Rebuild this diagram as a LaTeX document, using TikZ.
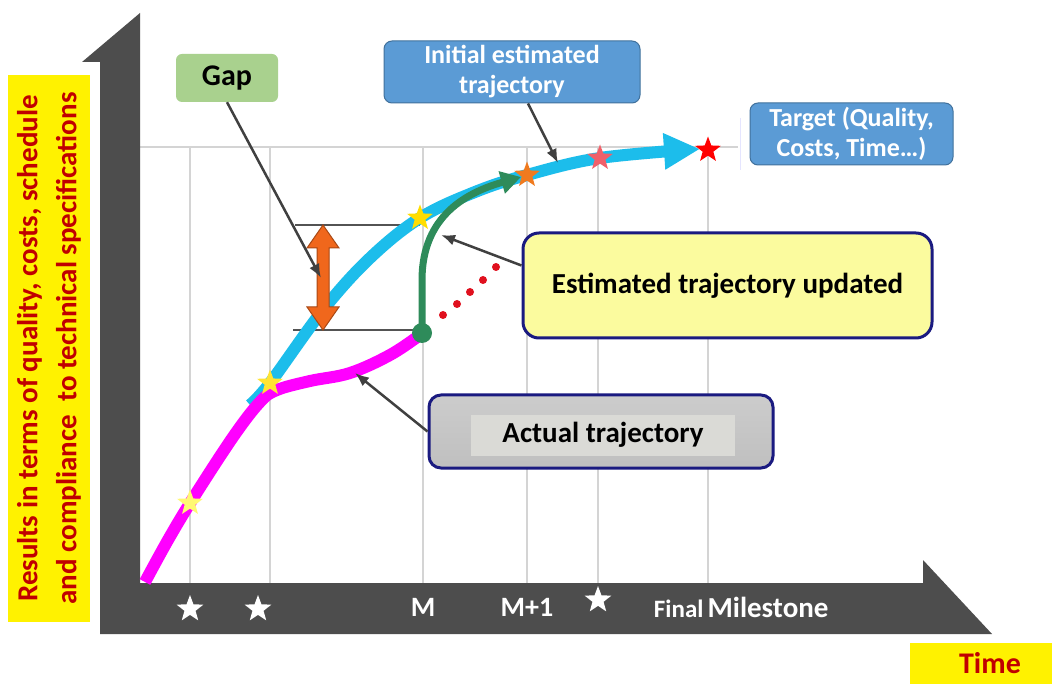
\documentclass[tikz,border=0pt]{standalone}
\usepackage{fontspec}
\setmainfont{Carlito}
\usetikzlibrary{arrows.meta,shapes.geometric}
\definecolor{axisgray}{HTML}{4D4D4D}
\definecolor{gridgray}{HTML}{D4D4D4}
\definecolor{darkred}{HTML}{C00000}
\definecolor{cyanc}{HTML}{1CBDEB}
\definecolor{magc}{HTML}{FF00FF}
\definecolor{greenc}{HTML}{2E8B5A}
\definecolor{orangec}{HTML}{F0671C}
\definecolor{boxblue}{HTML}{5B9BD5}
\definecolor{boxblueb}{HTML}{41719C}
\definecolor{boxgreen}{HTML}{A9D18E}
\definecolor{boxyellow}{HTML}{FBFB9E}
\definecolor{navy}{HTML}{1A1A80}
\definecolor{pointer}{HTML}{404040}
\definecolor{staryellow}{HTML}{FFDD00}
\definecolor{starorange}{HTML}{F07A1E}
\definecolor{starpink}{HTML}{F0606A}
\definecolor{dotred}{HTML}{E0101E}
\definecolor{innergray}{HTML}{DADAD6}
\tikzset{
  lbl/.style={font=\bfseries\fontsize{29}{32}\selectfont},
  bluebox/.style={font=\bfseries\fontsize{26}{30}\selectfont, rounded corners=8pt, fill=boxblue, draw=boxblueb, line width=1pt, text=white, align=center, inner sep=0pt},
  ptr/.style={draw=pointer, line width=2.5pt, -{Latex[length=14pt,width=11pt]}},
  mstar/.style={star, star points=5, star point ratio=2.4, minimum size=27pt, inner sep=0pt},
  wstar/.style={mstar, fill=white, minimum size=28pt},
  ticklbl/.style={font=\bfseries\fontsize{28}{30}\selectfont, text=white},
}
\begin{document}
\begin{tikzpicture}[x=1pt,y=-1pt]
\useasboundingbox (0,0) rectangle (1052,684);
\fill[white] (0,0) rectangle (1052,684);
% grid
\draw[gridgray, line width=1.2pt] (138,147) -- (738,147);
\foreach \gx in {190,270,423,527,598,708}
  \draw[gridgray, line width=1.2pt] (\gx,147) -- (\gx,583);
\draw[blue!10, line width=1pt] (740,118) -- (740,170);
% axes
\fill[axisgray] (100,634) -- (100,62) -- (82,62) -- (140,13) -- (140,583) -- (923,583) -- (923,560) -- (992,634) -- cycle;
% tick labels
\node[wstar] (s1) at (190,609) {};
\node[wstar] (s2) at (258,609) {};
\node[wstar] (s3) at (598,600) {};
\node[ticklbl] (tM) at (423,607) {M};
\node[ticklbl] (tM1) at (527,607) {M+1};
\node[ticklbl, anchor=east, font=\bfseries\fontsize{25}{27}\selectfont] (tfinal) at (707,609) {Final};
\node[ticklbl, anchor=west, font=\bfseries\fontsize{29}{31}\selectfont] (tmile) at (704,607) {Milestone};
% y label
\node[rotate=90, fill=yellow, minimum width=547pt, minimum height=82pt, inner sep=0pt, align=center,
      text=darkred, font=\bfseries\fontsize{29}{39}\selectfont] (ylab) at (49,348.5)
  {Results in terms of quality, costs, schedule\\and compliance\ \ to technical specifications};
% time label
\node[fill=yellow, minimum width=142pt, minimum height=41pt, inner sep=0pt, text=darkred,
      font=\bfseries\fontsize{30}{32}\selectfont] (timelab) at (981,663.5) {\hspace*{18pt}Time};
% gap lines
\draw[pointer!90, line width=1.5pt] (295,225) -- (420,225);
\draw[pointer!90, line width=1.5pt] (293,330) -- (420,330);
% cyan initial trajectory
\draw[cyanc, line width=12pt, -{Triangle[length=36pt,width=34pt]}]
  plot[smooth, tension=0.6] coordinates {(250,405) (270,383) (323,310) (370,258) (420,218) (475,192) (527,175) (600,158) (700,149)};
% magenta actual trajectory
\draw[magc, line width=12pt]
  plot[smooth, tension=0.6] coordinates {(145,582) (168,540) (192,500) (233,437) (260,402) (277,390) (310,381) (350,373) (390,355) (420,335)};
% green updated trajectory
\draw[greenc, line width=7pt, -{Triangle[length=20pt,width=22pt]}]
  (422,333) -- (422,280) .. controls (422,215) and (468,192) .. (521,177);
\node[circle, fill=greenc, minimum size=20pt, inner sep=0pt] (gdot) at (422,333) {};
% red dots
\foreach \dx/\dy in {443/315, 457/304, 470/292, 483/280, 496/267}
  \fill[dotred] (\dx,\dy) circle (4pt);
% stars on curves
\node[mstar, fill=yellow!55!white] (y1) at (190,503) {};
\node[mstar, fill=staryellow!80!white] (y2) at (270,383) {};
\node[mstar, fill=staryellow] (y3) at (420,218) {};
\node[mstar, fill=starorange] (o1) at (527,175) {};
\node[mstar, fill=starpink] (p1) at (600,158) {};
\node[mstar, fill=red] (r1) at (708,150) {};
% gap double arrow
\draw[orangec!70!black, fill=orangec, line width=1pt]
  (323,225) -- (339,248) -- (329,248) -- (329,307) -- (339,307) -- (323,330)
  -- (307,307) -- (317,307) -- (317,248) -- (307,248) -- cycle;
\coordinate (gapmid) at (321,278);
\coordinate (cyanpt) at (558,163);
\coordinate (greenpt) at (441,235);
\coordinate (magpt) at (355,373);
% boxes
\node[lbl, font=\bfseries\fontsize{30}{32}\selectfont, rounded corners=6pt, fill=boxgreen, minimum width=102pt, minimum height=48pt, inner sep=0pt] (gap) at (227,78) {Gap};
\node[bluebox, minimum width=256pt, minimum height=62pt] (init) at (512,72) {Initial estimated\\trajectory};
\node[bluebox, minimum width=203pt, minimum height=62pt] (target) at (851.5,134) {Target (Quality,\\Costs, Time\ldots)};
\node[lbl, rounded corners=16pt, fill=boxyellow, draw=navy, line width=3pt, minimum width=409pt, minimum height=105pt, inner sep=0pt] (est) at (727.5,285.5) {Estimated trajectory updated};
\node[rounded corners=12pt, top color=gray!40, middle color=white, bottom color=gray!50, draw=navy, line width=3pt, minimum width=344pt, minimum height=73pt, inner sep=0pt] (act) at (601,431.5) {};
\fill[innergray] (471,415) rectangle (735,456);
\node[lbl] (acttext) at (603,435) {Actual trajectory};
% pointers
\draw[ptr] (gap.south) -- (gapmid);
\draw[ptr] ([xshift=16pt]init.south) -- (cyanpt);
\draw[ptr] ([yshift=20pt]est.west) -- (greenpt);
\draw[ptr] (act.west) -- (magpt);
\end{tikzpicture}
\end{document}
